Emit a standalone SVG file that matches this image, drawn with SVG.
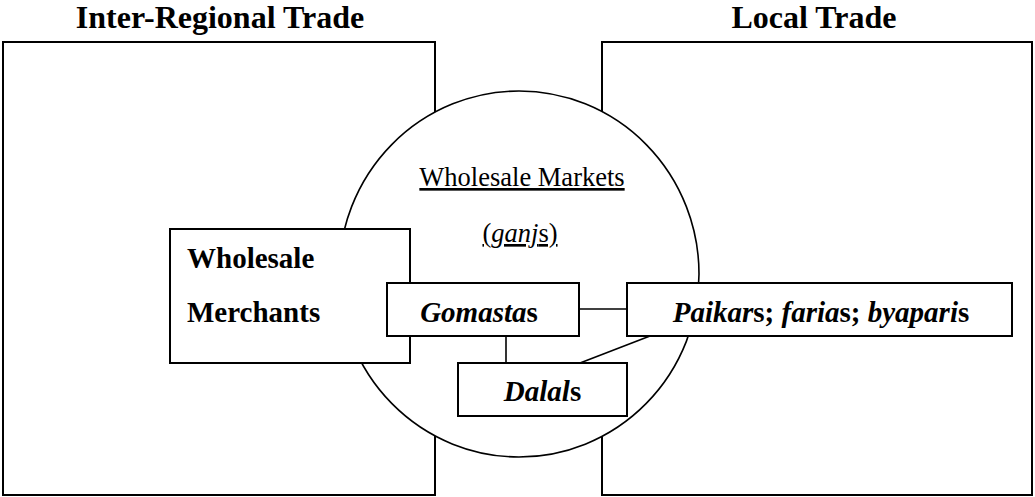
<svg xmlns="http://www.w3.org/2000/svg" width="1035" height="497" viewBox="0 0 1035 497">
<style>
.box{fill:#fff;stroke:#000;stroke-width:2}
.title{font-family:"Liberation Serif","Times New Roman",serif;font-weight:bold;font-size:32px;fill:#000}
.b{font-family:"Liberation Serif","Times New Roman",serif;font-weight:bold;font-size:29px;fill:#000}
.r{font-family:"Liberation Serif","Times New Roman",serif;font-size:26.5px;fill:#000;text-decoration:underline}
.i{font-style:italic}
.conn{stroke:#000;stroke-width:1.6;fill:none}
</style>
<rect width="1035" height="497" fill="#fff"/>
<g id="inter-regional">
<rect class="box" x="3" y="42" width="432" height="453"/>
<text class="title" x="220" y="28" text-anchor="middle">Inter-Regional Trade</text>
</g>
<g id="local">
<rect class="box" x="602" y="42" width="430" height="453"/>
<text class="title" x="814" y="28" text-anchor="middle">Local Trade</text>
</g>
<g id="wholesale-markets">
<ellipse cx="519" cy="274" rx="180" ry="183" fill="#fff" stroke="#000" stroke-width="1.6"/>
<text class="r" x="522" y="186" text-anchor="middle">Wholesale Markets</text>
<text class="r" x="520" y="242" text-anchor="middle">(<tspan class="i">ganj</tspan>s)</text>
</g>
<g id="connectors">
<line class="conn" x1="579" y1="309" x2="627" y2="309"/>
<line class="conn" x1="506" y1="336" x2="506" y2="363"/>
<line class="conn" x1="650" y1="336" x2="580" y2="363"/>
</g>
<g id="merchants">
<rect class="box" x="170" y="229" width="240" height="134"/>
<text class="b" x="187" y="268">Wholesale</text>
<text class="b" x="187" y="322">Merchants</text>
</g>
<g id="gomastas">
<rect class="box" x="387" y="283" width="192" height="53"/>
<text class="b" x="479" y="322" text-anchor="middle"><tspan class="i">Gomasta</tspan>s</text>
</g>
<g id="paikars">
<rect class="box" x="627" y="283" width="385" height="53"/>
<text class="b" x="821" y="322" text-anchor="middle"><tspan class="i">Paikar</tspan>s; <tspan class="i">faria</tspan>s; <tspan class="i">byapari</tspan>s</text>
</g>
<g id="dalals">
<rect class="box" x="458" y="363" width="169" height="53"/>
<text class="b" x="542.5" y="401" text-anchor="middle"><tspan class="i">Dalal</tspan>s</text>
</g>
</svg>
